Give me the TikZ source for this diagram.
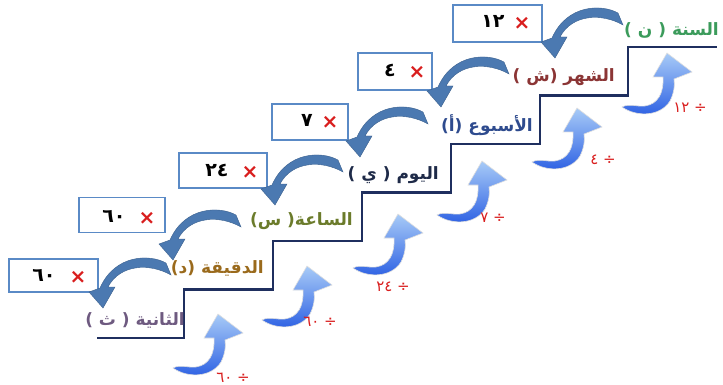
\documentclass[tikz,border=0pt]{standalone}
\usepackage{fontspec}
\usetikzlibrary{arrows.meta}
\newfontfamily\arabicfont[Script=Arabic]{DejaVu Sans}
\TeXXeTstate=1
\definecolor{stairc}{HTML}{1F2F5F}
\definecolor{boxc}{HTML}{5A8AC6}
\definecolor{darkarr}{HTML}{4B79B1}
\definecolor{liftlo}{HTML}{2B5FE3}
\definecolor{lifthi}{HTML}{A8CBF7}
\definecolor{xred}{HTML}{D91E1E}
\definecolor{cL0}{HTML}{6E5A80}
\definecolor{cL1}{HTML}{9A6A1C}
\definecolor{cL2}{HTML}{6B7B2B}
\definecolor{cL3}{HTML}{1E2A48}
\definecolor{cL4}{HTML}{2E4B8E}
\definecolor{cL5}{HTML}{8B3535}
\definecolor{cL6}{HTML}{3B9B5B}
\tikzset{
  lbl/.style={anchor=east, inner sep=0pt, font=\arabicfont\bfseries\fontsize{17}{17}\selectfont},
  boxst/.style={draw=boxc, line width=1.6pt, fill=white, inner sep=0pt},
  numst/.style={inner sep=0pt, font=\arabicfont\bfseries\fontsize{19}{19}\selectfont},
  timesst/.style={inner sep=0pt, text=xred, font=\arabicfont\bfseries\fontsize{20}{20}\selectfont},
  divst/.style={inner sep=0pt, text=xred, font=\arabicfont\fontsize{15}{15}\selectfont},
}
\newcommand{\bendarrow}[1]{%
  \begin{scope}[shift={(#1)}]
    \filldraw[fill=darkarr, draw=darkarr!80!black, line width=0.4pt]
      (-4,-7) .. controls (-20,-16) and (-55,-16) .. (-70,18)
      -- (-81,22) -- (-67,38) -- (-55,17) -- (-62,17)
      .. controls (-50,-6) and (-20,-7) .. (1,5) -- cycle;
  \end{scope}}
\newcommand{\liftarrow}[1]{%
  \begin{scope}[shift={(#1)}]
    \shade[top color=lifthi, bottom color=liftlo, draw=white!75!gray, line width=0.6pt]
      (0,0) .. controls (14,10) and (38,10) .. (48,-6)
      .. controls (52,-14) and (53,-22) .. (52,-28)
      -- (70,-35) -- (45,-54) -- (31,-30) -- (41,-30)
      .. controls (42,-14) and (36,-3) .. (23,-1)
      .. controls (14,0) and (8,-4) .. (0,0) -- cycle;
  \end{scope}}
\begin{document}
\begin{tikzpicture}[x=1pt,y=-1pt]
\useasboundingbox (0,0) rectangle (723,385);
% staircase
\draw[stairc, line width=2.6pt, line join=miter]
  (97,338) -- (184,338) -- (184,289.5) -- (273,289.5) -- (273,241)
  -- (362,241) -- (362,192.5) -- (451,192.5) -- (451,144) -- (540,144)
  -- (540,95.5) -- (628,95.5) -- (628,47) -- (717,47);
% labels
\node[lbl, text=cL0] (L0) at (185,320) {\beginR الثانية ( ث )\endR};
\node[lbl, text=cL1] (L1) at (264,268) {\beginR الدقيقة (د)\endR};
\node[lbl, text=cL2] (L2) at (353,221) {\beginR الساعة( س)\endR};
\node[lbl, text=cL3] (L3) at (439,175) {\beginR اليوم ( ي )\endR};
\node[lbl, text=cL4] (L4) at (533,125) {\beginR الأسبوع (أ)\endR};
\node[lbl, text=cL5] (L5) at (615,77) {\beginR الشهر (ش )\endR};
\node[lbl, text=cL6] (L6) at (719,30) {\beginR السنة ( ن )\endR};
% boxes
\node[boxst, minimum width=89pt, minimum height=33pt] (B0) at (53.5,275.5) {};
\node[boxst, minimum width=86pt, minimum height=35pt] (B1) at (122,215) {};
\node[boxst, minimum width=88pt, minimum height=35pt] (B2) at (223,170.5) {};
\node[boxst, minimum width=76pt, minimum height=36pt] (B3) at (310,122) {};
\node[boxst, minimum width=74pt, minimum height=37pt] (B4) at (395,71.5) {};
\node[boxst, minimum width=89pt, minimum height=37pt] (B5) at (497.5,23.5) {};
\node[numst] (N0) at (44,275) {٦٠};
\node[timesst] (X0) at (78,277) {×};
\node[numst] (N1) at (114,216) {٦٠};
\node[timesst] (X1) at (147,218) {×};
\node[numst] (N2) at (217,170) {٢٤};
\node[timesst] (X2) at (250,172) {×};
\node[numst] (N3) at (307,120) {٧};
\node[timesst] (X3) at (330,122) {×};
\node[numst] (N4) at (390,70) {٤};
\node[timesst] (X4) at (417,72) {×};
\node[numst] (N5) at (493,21) {١٢};
\node[timesst] (X5) at (522,23) {×};
% dark bent arrows
\bendarrow{622,20}
\bendarrow{508,69}
\bendarrow{427,119}
\bendarrow{342,167}
\bendarrow{240,222}
\bendarrow{170,270}
% lift arrows
\liftarrow{173,368}
\liftarrow{262,320}
\liftarrow{353,268}
\liftarrow{437,215}
\liftarrow{532,162}
\liftarrow{622,107}
% divide labels
\node[divst] (D0) at (233,378) {\beginR ÷ ٦٠\endR};
\node[divst] (D1) at (320,322) {\beginR ÷ ٦٠\endR};
\node[divst] (D2) at (393,287) {\beginR ÷ ٢٤\endR};
\node[divst] (D3) at (493,218) {\beginR ÷ ٧\endR};
\node[divst] (D4) at (603,160) {\beginR ÷ ٤\endR};
\node[divst] (D5) at (690,108) {\beginR ÷ ١٢\endR};
\end{tikzpicture}
\end{document}
